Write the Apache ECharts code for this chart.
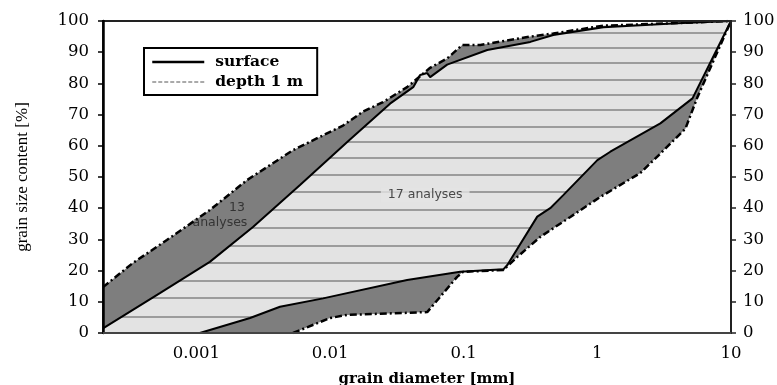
<!DOCTYPE html>
<html><head><meta charset="utf-8">
<script src="https://cdn.jsdelivr.net/npm/echarts@6/dist/echarts.min.js"></script>
<style>html,body{margin:0;padding:0;background:#fff}#c{width:777px;height:385px}</style>
</head><body><div id="c"></div>
<script>
// ---- data ----
const xTickValues = [0.001, 0.01, 0.1, 1, 10];
const xTickLabels = ['0.001', '0.01', '0.1', '1', '10'];

// depth 1 m envelope (13 analyses) - upper bound
const depthUpperX = [0.0002, 0.000334, 0.000601, 0.00126, 0.00239, 0.00528, 0.0125, 0.0177, 0.0249, 0.0377, 0.0561, 0.0752, 0.0975, 0.133, 0.315, 0.468, 1.11, 3.7, 10];
const depthUpperY = [14.7, 22.4, 29.8, 39.4, 49, 58.6, 66.5, 71, 74, 78.8, 85, 88, 92.3, 92.3, 95, 96, 98.5, 99.3, 100];
// depth 1 m envelope - lower bound
const depthLowerX = [0.00528, 0.01, 0.0134, 0.0533, 0.0893, 0.099, 0.198, 0.252, 0.374, 0.628, 1.05, 2.1, 2.96, 4.56, 5.61, 10];
const depthLowerY = [0, 4.8, 5.8, 6.7, 18, 19.6, 20.2, 24.4, 30.8, 37.2, 43.6, 51.3, 57.5, 65.5, 75.6, 100];
// surface envelope (17 analyses) - upper bound
const surfaceUpperX = [0.0002, 0.000533, 0.00126, 0.00265, 0.00596, 0.0141, 0.0281, 0.0419, 0.0472, 0.0533, 0.0561, 0.0752, 0.15, 0.315, 0.468, 1.11, 3.97, 10];
const surfaceUpperY = [1.5, 12.8, 22.8, 34, 47.4, 62, 73.5, 78.8, 82.7, 83.3, 82, 86, 90.7, 93.3, 95.5, 98, 99.3, 100];
// surface envelope - lower bound
const surfaceLowerX = [0.00106, 0.00252, 0.00422, 0.00887, 0.0377, 0.0941, 0.198, 0.212, 0.355, 0.444, 0.556, 1, 1.25, 2.96, 5.15, 10];
const surfaceLowerY = [0, 4.8, 8.4, 11.1, 17, 19.6, 20.4, 21.8, 37.3, 40, 44.2, 55.4, 58.1, 67.2, 75.2, 100];

// annotation texts and their anchor (data coordinates)
const noteTexts = ['17 analyses', '13', 'analyses'];
const noteX = [0.0515, 0.00201, 0.0015];
const noteY = [44.2, 40, 35.3];

// ---- styles ----
const DARK = '#7e7e7e';
const LIGHT = '#e3e3e3';
const HATCH = '#9c9c9c';
const HATCH_ROWS = [33, 48, 63, 80, 95, 110, 127, 142, 158, 175, 192, 210, 228, 246, 263, 281, 298, 317];

function makeHatch() {
  const c = document.createElement('canvas');
  c.width = 8; c.height = 385;
  const g = c.getContext('2d');
  g.fillStyle = LIGHT; g.fillRect(0, 0, 8, 385);
  g.fillStyle = HATCH;
  HATCH_ROWS.forEach(y => g.fillRect(0, y - 1, 8, 2));
  return c;
}
const hatch = makeHatch();

const pair = (xs, ys) => xs.map((x, i) => [x, ys[i]]);
const DASH = [7, 3, 2, 3];
const HIDDEN = { color: 'rgba(0,0,0,0)', borderColor: 'rgba(0,0,0,0)', borderWidth: 0 };

function areaSeries(name, xs, ys, fill) {
  return { name, type: 'line', data: pair(xs, ys), symbol: 'none', silent: true,
    lineStyle: { width: 0 }, areaStyle: { color: fill, opacity: 1 }, z: 2 };
}
function lineSeries(name, xs, ys, width, type) {
  return { name, type: 'line', data: pair(xs, ys), symbol: 'none', silent: true,
    itemStyle: HIDDEN,
    lineStyle: { color: '#000', width, type }, z: 3 };
}

const chart = echarts.init(document.getElementById('c'), null, { renderer: 'canvas' });
chart.setOption({
  animation: false,
  backgroundColor: '#fff',
  grid: { left: 103, right: 46, top: 21, bottom: 52, show: true, borderColor: '#222', borderWidth: 2, z: 6,
    containLabel: false, outerBoundsMode: 'none' },
  legend: {
    left: 144, top: 48, orient: 'vertical', padding: [6, 14, 5, 7], itemGap: 4,
    itemWidth: 52, itemHeight: 16, backgroundColor: '#fff', borderColor: '#000', borderWidth: 2,
    textStyle: { fontFamily: 'DejaVu Serif', fontWeight: 'bold', fontSize: 15.5, color: '#000', padding: [0, 0, 0, 6] },
    data: [
      { name: 'surface', itemStyle: HIDDEN, lineStyle: { color: '#000', width: 2.5, type: 'solid' } },
      { name: 'depth 1 m', itemStyle: HIDDEN, lineStyle: { color: '#555', width: 1, type: [4, 2] } }
    ],
    selectedMode: false
  },
  xAxis: {
    type: 'log', logBase: 10, min: 0.0002, max: 10, z: 6,
    name: 'grain diameter [mm]', nameLocation: 'middle', nameGap: 39,
    nameTextStyle: { fontFamily: 'DejaVu Serif', fontWeight: 'bold', fontSize: 15, color: '#000', padding: [0, 0, 0, 20] },
    axisLine: { show: true, lineStyle: { color: '#444', width: 2 } },
    axisTick: { show: false },
    splitLine: { show: false },
    axisLabel: {
      margin: 12, fontFamily: 'DejaVu Serif', fontSize: 16.5, color: '#000', showMinLabel: false,
      formatter: v => {
        const i = xTickValues.findIndex(t => Math.abs(v / t - 1) < 1e-6);
        return i < 0 ? '' : xTickLabels[i];
      }
    }
  },
  yAxis: [
    {
      type: 'value', min: 0, max: 100, interval: 10, position: 'left', z: 6,
      name: 'grain size content [%]', nameLocation: 'middle', nameGap: 72,
      nameTextStyle: { fontFamily: 'Liberation Serif', fontSize: 17, color: '#000' },
      axisLine: { show: true, lineStyle: { color: '#000', width: 2.5 } },
      axisTick: { show: true, length: 5, lineStyle: { color: '#000', width: 1.5 } },
      axisLabel: { margin: 14, fontFamily: 'DejaVu Serif', fontSize: 16.5, color: '#000' },
      splitLine: { show: false }
    },
    {
      type: 'value', min: 0, max: 100, interval: 10, position: 'right', z: 6,
      axisLine: { show: true, lineStyle: { color: '#222', width: 1.5 } },
      axisTick: { show: true, length: 5, lineStyle: { color: '#222', width: 1.5 } },
      axisLabel: { margin: 12, fontFamily: 'DejaVu Serif', fontSize: 16.5, color: '#000' },
      splitLine: { show: false }
    }
  ],
  series: [
    areaSeries('_a1', depthUpperX, depthUpperY, DARK),
    areaSeries('_a2', surfaceUpperX, surfaceUpperY, { image: hatch, repeat: 'repeat' }),
    areaSeries('_a3', surfaceLowerX, surfaceLowerY, DARK),
    areaSeries('_a4', depthLowerX, depthLowerY, '#fff'),
    lineSeries('depth 1 m', depthUpperX, depthUpperY, 2.5, DASH),
    lineSeries('surface', surfaceUpperX, surfaceUpperY, 2, 'solid'),
    lineSeries('surface', surfaceLowerX, surfaceLowerY, 2, 'solid'),
    lineSeries('depth 1 m', depthLowerX, depthLowerY, 2.5, DASH),
    {
      name: '_notes', type: 'scatter', symbolSize: 0, silent: true, z: 4,
      data: noteTexts.map((t, i) => ({
        value: [noteX[i], noteY[i]],
        label: i === 0 ? { formatter: t, backgroundColor: LIGHT, padding: [1, 7] } : { formatter: t }
      })),
      label: { show: true, position: 'inside', fontFamily: 'DejaVu Sans', fontSize: 12.5, color: '#222' }
    }
  ]
});
</script>
</body></html>
